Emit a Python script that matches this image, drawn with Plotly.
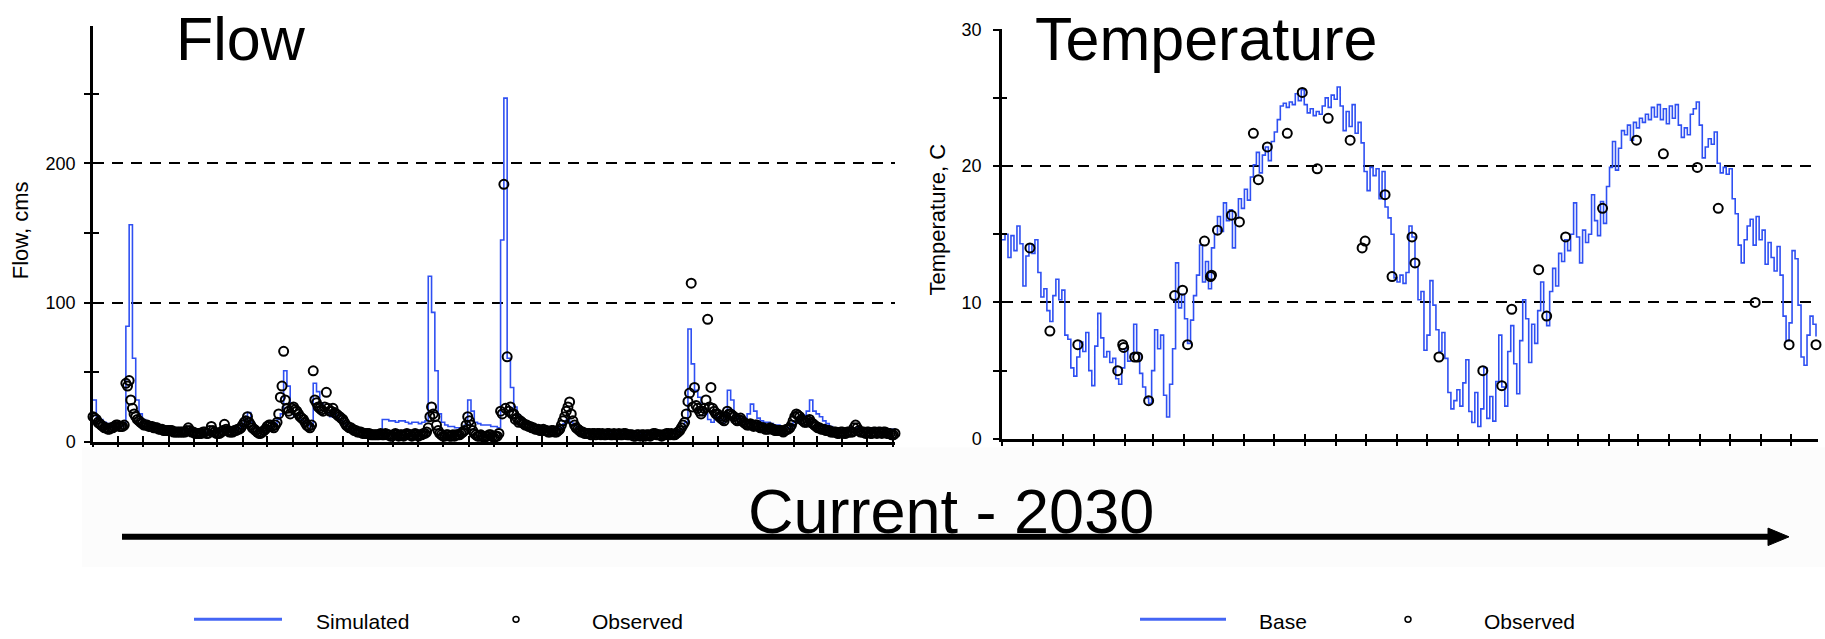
import plotly.graph_objects as go
from datetime import date, timedelta

# ---------------- data ----------------
flow_start = date(2000, 10, 1)
flow_step_days = 4
flow_span_days = 976

flow_simulated = [
    30, 17, 16, 14, 13, 12, 12, 11, 11, 12,
    83, 156, 60, 30, 20, 16, 14, 13, 12, 11,
    11, 10, 10, 9, 9, 9, 8, 8, 8, 8,
    8, 7, 7, 7, 7, 7, 7, 7, 7, 8,
    9, 8, 8, 9, 10, 12, 16, 21, 14, 10,
    8, 7, 8, 10, 11, 13, 16, 20, 51, 40,
    22, 18, 20, 16, 14, 12, 11, 42, 36, 28,
    24, 20, 18, 20, 17, 15, 13, 11, 10, 9,
    8, 8, 7, 7, 7, 7, 7, 8, 16, 16,
    15, 15, 14, 15, 15, 14, 13, 14, 14, 13,
    14, 15, 119, 93, 51, 20, 14, 12, 11, 11,
    10, 10, 10, 12, 30, 22, 14, 13, 12, 12,
    12, 11, 11, 10, 145, 247, 60, 39, 25, 19,
    16, 14, 13, 12, 11, 10, 10, 9, 9, 9,
    8, 9, 10, 13, 16, 14, 12, 10, 9, 8,
    8, 7, 7, 7, 7, 7, 7, 7, 7, 7,
    7, 7, 6, 6, 6, 6, 6, 6, 6, 6,
    7, 6, 6, 6, 7, 7, 7, 7, 8, 9,
    14, 81, 56, 37, 32, 25, 20, 16, 14, 18,
    16, 13, 20, 37, 30, 20, 16, 15, 14, 20,
    27, 22, 17, 15, 14, 14, 13, 12, 12, 11,
    10, 10, 11, 14, 16, 17, 19, 22, 30, 22,
    20, 18, 15, 13, 11, 10, 10, 9, 9, 9,
    9, 9, 10, 9, 9, 9, 9, 10, 9, 9,
    9, 9, 9, 9, 8, 8,
]

# observed flow, sampled on the same 4-day grid as the simulation
flow_observed = [
    18, 16, 13, 11, 10, 9, 10, 12, 11, 11,
    42, 44, 24, 18, 15, 13, 12, 11, 11, 10,
    9, 9, 8, 8, 8, 7, 7, 7, 7, 10,
    7, 6, 6, 6, 7, 6, 11, 7, 6, 7,
    12.5, 8, 7, 8, 9, 10, 14, 18, 12, 9,
    7, 6, 8, 11, 12, 10, 14, 32, 65, 24,
    20, 25, 22, 18, 16, 12, 10, 51, 28, 24,
    22, 35.5, 22, 24, 20, 18, 16, 12, 10, 9,
    8, 7, 6, 6, 6, 5, 5, 5, 5, 6,
    5, 4, 6, 4, 5, 5, 5, 4, 6, 4,
    5, 6, 10, 25, 18, 8, 5, 4, 5, 4,
    4, 5, 6, 8, 18, 12, 6, 4, 5, 3,
    4, 5, 3, 4, 22, 185, 61, 25, 20, 17,
    15, 13, 12, 11, 10, 9, 8, 9, 8, 7,
    8, 7, 9, 15, 22, 28.6, 15, 10, 8, 7,
    6, 6, 6, 5, 6, 6, 5, 6, 5, 5,
    6, 5, 6, 5, 5, 4, 5, 5, 4, 5,
    5, 6, 5, 4, 5, 6, 6, 5, 7, 10,
    14, 29, 114, 39, 24, 20, 24, 88, 39, 22,
    20, 17, 15, 22, 20, 18, 15, 17, 14, 12,
    13, 11, 12, 10, 10, 9, 10, 9, 8, 8,
    7, 9, 10, 15, 20, 18, 15, 14, 16, 13,
    11, 10, 9, 8, 8, 7, 7, 6, 7, 6,
    7, 7, 12, 8, 7, 6, 7, 6, 7, 7,
    6, 7, 6, 5, 6, 6,
]

# observed flow on the in-between days (2 days after each grid day)
flow_observed_mid = [
    17, 14, 12, 10, 9, 10, 11, 12, 11, 12,
    40, 30, 20, 16, 14, 12, 12, 11, 10, 10,
    9, 8, 8, 8, 7, 7, 7, 7, 8, 8,
    7, 6, 6, 7, 6, 8, 8, 6, 6, 8,
    9, 7, 7, 8, 9, 12, 15, 14, 10, 8,
    6, 7, 9, 12, 11, 12, 20, 40, 30, 22,
    24, 23, 20, 17, 14, 11, 12, 30, 25, 23,
    25, 24, 22, 21, 19, 17, 14, 11, 10, 8,
    7, 7, 6, 6, 5, 5, 5, 6, 5, 5,
    4, 5, 5, 5, 4, 6, 5, 5, 5, 5,
    6, 7, 18, 20, 12, 6, 4, 5, 4, 5,
    5, 5, 7, 12, 15, 8, 5, 4, 4, 4,
    5, 4, 4, 6, 20, 24, 22, 20, 16, 14,
    14, 12, 11, 10, 9, 9, 8, 8, 7, 8,
    7, 8, 12, 18, 25, 20, 12, 9, 7, 6,
    6, 5, 6, 6, 5, 5, 6, 5, 6, 5,
    5, 6, 5, 5, 4, 5, 4, 5, 5, 4,
    6, 5, 5, 5, 6, 5, 5, 6, 8, 12,
    20, 35, 25, 26, 22, 22, 30, 25, 24, 20,
    18, 16, 18, 20, 19, 16, 16, 15, 13, 12,
    12, 12, 11, 10, 9, 9, 9, 8, 8, 8,
    8, 9, 12, 18, 19, 16, 14, 15, 14, 12,
    10, 9, 9, 8, 7, 7, 6, 7, 6, 7,
    7, 10, 10, 7, 7, 7, 6, 7, 6, 7,
    7, 6, 6, 5, 6,
]

temp_start = date(2000, 10, 1)
temp_step_days = 3
temp_span_days = 818

temp_base = [
    14.6, 15.0, 13.3, 14.9, 13.8, 15.6, 14.3, 11.2, 13.4, 14.3,
    13.6, 14.6, 12.2, 10.4, 11.0, 9.4, 8.6, 10.5, 11.7, 10.2,
    10.9, 7.6, 7.3, 5.2, 4.6, 6.0, 7.1, 6.4, 7.8, 5.0,
    3.9, 6.8, 9.2, 7.4, 6.0, 6.4, 5.6, 5.9, 4.4, 4.0,
    5.2, 6.6, 5.7, 6.2, 8.4, 6.3, 4.8, 3.8, 3.0, 2.6,
    5.0, 8.0, 6.6, 7.6, 3.2, 1.6, 4.0, 6.6, 12.9, 9.6,
    10.6, 8.8, 7.0, 8.7, 10.5, 12.0, 14.2, 11.5, 13.0, 11.0,
    14.0, 15.0, 16.3, 15.2, 17.3, 16.0, 16.8, 14.0, 16.2, 17.6,
    16.9, 18.3, 17.5, 19.2, 20.1, 21.0, 19.5, 20.8, 21.4, 20.4,
    21.8, 22.5, 23.4, 24.4, 24.6, 24.3, 24.7, 24.5, 25.3, 24.8,
    25.6, 24.5, 23.9, 24.2, 23.7, 24.0, 23.8, 24.4, 25.0, 24.3,
    25.2, 24.9, 25.8, 24.4, 22.6, 24.0, 22.9, 24.5, 22.4, 23.2,
    21.7, 19.6, 18.2, 19.9, 19.3, 19.8, 17.6, 19.6, 17.0, 16.2,
    15.0, 11.8, 11.5, 12.0, 11.4, 12.2, 15.6, 14.8, 12.6, 10.2,
    10.8, 6.5, 7.6, 11.6, 9.8, 8.0, 6.4, 7.8, 5.9, 3.4,
    2.2, 2.8, 3.6, 2.4, 4.1, 5.8, 2.0, 1.2, 3.4, 0.9,
    2.2, 5.2, 1.5, 3.1, 1.3, 4.2, 7.6, 3.8, 2.4, 6.4,
    8.3, 5.5, 3.3, 7.2, 10.2, 8.8, 5.6, 8.4, 7.0, 9.4,
    11.5, 9.3, 8.3, 10.8, 12.5, 11.2, 13.6, 13.0, 14.6, 13.8,
    15.0, 17.3, 14.8, 12.9, 15.3, 14.4, 15.0, 17.9, 16.0, 14.9,
    17.4, 15.8, 18.5, 19.9, 21.8, 19.7, 21.3, 22.6, 22.3, 23.0,
    21.9, 23.2, 22.8, 23.5, 23.2, 23.8, 23.4, 24.3, 23.6, 24.5,
    23.4, 24.2, 23.1, 24.4, 23.5, 24.5, 23.0, 22.1, 22.8, 22.3,
    23.8, 24.2, 24.7, 23.0, 20.6, 21.4, 22.0, 21.6, 22.5, 20.2,
    19.5, 19.9, 19.4, 19.8, 17.6, 16.5, 14.2, 12.9, 14.6, 15.6,
    16.1, 14.2, 16.3, 14.6, 15.3, 12.8, 14.4, 13.3, 12.3, 14.1,
    12.0, 9.0, 7.2, 8.5, 13.8, 13.2, 9.8, 6.0, 5.4, 7.6,
    9.0, 8.4, 7.5,
]

temp_obs_day = [
    28, 48, 76, 116, 121, 122, 133, 136, 147, 173,
    181, 186, 203, 209, 210, 216, 230, 238, 252, 257,
    266, 286, 301, 316, 327, 349, 361, 364, 384, 391,
    411, 414, 438, 482, 501, 511, 538, 546, 565, 602,
    636, 663, 697, 718, 755, 789, 816,
]
temp_obs_val = [
    14.0, 7.9, 6.9, 5.0, 6.9, 6.7, 6.0, 6.0, 2.8, 10.5,
    10.9, 6.9, 14.5, 11.9, 12.0, 15.3, 16.4, 15.9, 22.4, 19.0,
    21.4, 22.4, 25.4, 19.8, 23.5, 21.9, 14.0, 14.5, 17.9, 11.9,
    14.8, 12.9, 6.0, 5.0, 3.9, 9.5, 12.4, 9.0, 14.8, 16.9,
    21.9, 20.9, 19.9, 16.9, 10.0, 6.9, 6.9,
]

flow_tickvals = [0, 100, 200]
flow_minorvals = [50, 150, 250]
flow_ymax = 298.5
temp_tickvals = [0, 10, 20, 30]
temp_minorvals = [5, 15, 25]
temp_ymax = 30.02

# ---------------- helpers ----------------
W, H = 1825, 639


def px(x):
    return x / W


def py(y):
    return 1 - y / H


def day_dates(start, days):
    return [(start + timedelta(days=d)).isoformat() for d in days]


def step_dates(start, n, step, offset=0):
    return day_dates(start, [step * i + offset for i in range(n)])


BLUE = "#2f50f2"
FONT = "Arial, Liberation Sans, sans-serif"

fig = go.Figure()

obs_marker = dict(symbol="circle-open", size=9, color="black",
                  line=dict(width=2, color="black"))

# Flow chart
fig.add_trace(go.Scatter(
    x=step_dates(flow_start, len(flow_simulated), flow_step_days), y=flow_simulated,
    mode="lines", line=dict(color=BLUE, width=1.6, shape="hv"),
    xaxis="x", yaxis="y", name="Simulated"))
fig.add_trace(go.Scatter(
    x=step_dates(flow_start, len(flow_observed), flow_step_days)
      + step_dates(flow_start, len(flow_observed_mid), flow_step_days, offset=2),
    y=flow_observed + flow_observed_mid,
    mode="markers", marker=obs_marker,
    cliponaxis=False, xaxis="x", yaxis="y", name="Observed"))

# Temperature chart
fig.add_trace(go.Scatter(
    x=step_dates(temp_start, len(temp_base), temp_step_days), y=temp_base,
    mode="lines", line=dict(color=BLUE, width=1.6, shape="hv"),
    xaxis="x2", yaxis="y2", name="Base"))
fig.add_trace(go.Scatter(
    x=day_dates(temp_start, temp_obs_day), y=temp_obs_val,
    mode="markers", marker=obs_marker,
    cliponaxis=False, xaxis="x2", yaxis="y2", name="Observed"))

# empty traces so the overlay (inside-tick) axes are drawn
fig.add_trace(go.Scatter(x=[], y=[], xaxis="x3", yaxis="y3", showlegend=False))
fig.add_trace(go.Scatter(x=[], y=[], xaxis="x4", yaxis="y4", showlegend=False))

flow_xrange = [flow_start.isoformat(), (flow_start + timedelta(days=flow_span_days)).isoformat()]
temp_xrange = [temp_start.isoformat(), (temp_start + timedelta(days=temp_span_days)).isoformat()]

common_x = dict(type="date", tickmode="linear", dtick="M1", showticklabels=False,
                showgrid=False, zeroline=False, tickcolor="black", tickwidth=2)
grid = dict(showgrid=True, gridcolor="black", gridwidth=2, griddash="11px,8px")
tickfont = dict(family=FONT, size=18, color="black")

fig.update_layout(
    width=W, height=H, margin=dict(l=0, r=0, t=0, b=0),
    paper_bgcolor="white", plot_bgcolor="white", showlegend=False,
    xaxis=dict(**common_x, domain=[px(93), px(895)], anchor="y", range=flow_xrange,
               tick0=flow_xrange[0], ticks="outside", ticklen=3,
               showline=True, linecolor="black", linewidth=2.5),
    xaxis3=dict(**common_x, overlaying="x", anchor="y", range=flow_xrange,
                tick0=flow_xrange[0], ticks="inside", ticklen=6, showline=False),
    yaxis=dict(domain=[py(446), py(18)], anchor="x", range=[0, flow_ymax],
               tickmode="array", tickvals=flow_tickvals,
               ticktext=[str(v) for v in flow_tickvals],
               ticks="outside", ticklen=6, tickwidth=2, tickcolor="black",
               showline=True, linecolor="black", linewidth=2.5, zeroline=False,
               tickfont=tickfont, ticklabelstandoff=5,
               minor=dict(tickvals=flow_minorvals, ticks="outside", ticklen=6,
                          tickwidth=2, tickcolor="black", showgrid=False),
               **grid),
    yaxis3=dict(overlaying="y", anchor="x", side="left", range=[0, flow_ymax],
                tickmode="array", tickvals=flow_tickvals + flow_minorvals,
                ticks="inside", ticklen=6, tickwidth=2, tickcolor="black",
                showticklabels=False, showgrid=False, showline=False, zeroline=False),
    xaxis2=dict(**common_x, domain=[px(1002), px(1818)], anchor="y2", range=temp_xrange,
                tick0=temp_xrange[0], ticks="outside", ticklen=4,
                showline=True, linecolor="black", linewidth=2.5),
    xaxis4=dict(**common_x, overlaying="x2", anchor="y2", range=temp_xrange,
                tick0=temp_xrange[0], ticks="inside", ticklen=5, showline=False),
    yaxis2=dict(domain=[py(443), py(21)], anchor="x2", range=[0, temp_ymax],
                tickmode="array", tickvals=temp_tickvals,
                ticktext=[str(v) for v in temp_tickvals],
                ticks="outside", ticklen=6, tickwidth=2, tickcolor="black",
                showline=True, linecolor="black", linewidth=2.5, zeroline=False,
                tickfont=tickfont, ticklabelstandoff=8,
                minor=dict(tickvals=temp_minorvals, ticks="outside", ticklen=6,
                           tickwidth=2, tickcolor="black", showgrid=False),
                **grid),
    yaxis4=dict(overlaying="y2", anchor="x2", side="left", range=[0, temp_ymax],
                tickmode="array", tickvals=temp_tickvals + temp_minorvals,
                ticks="inside", ticklen=5, tickwidth=2, tickcolor="black",
                showticklabels=False, showgrid=False, showline=False, zeroline=False),
)

shapes = [
    # faint band behind the time-line caption
    dict(type="rect", xref="paper", yref="paper", x0=px(82), x1=1, y0=py(575), y1=py(452),
         fillcolor="#fcfcfc", line=dict(width=0), layer="below"),
    # time arrow
    dict(type="line", xref="paper", yref="paper", x0=px(122), x1=px(1772),
         y0=py(544), y1=py(544), line=dict(color="black", width=6)),
    dict(type="path", xref="paper", yref="paper",
         path=f"M {px(1768)},{py(535)} L {px(1789)},{py(544)} L {px(1768)},{py(553)} Z",
         fillcolor="black", line=dict(color="black", width=1)),
    # legend symbols
    dict(type="line", xref="paper", yref="paper", x0=px(194), x1=px(282),
         y0=py(629), y1=py(629), line=dict(color="#4466f5", width=3)),
    dict(type="circle", xref="paper", yref="paper", x0=px(513), x1=px(519),
         y0=py(632), y1=py(626), line=dict(color="black", width=1.5)),
    dict(type="line", xref="paper", yref="paper", x0=px(1140), x1=px(1226),
         y0=py(629), y1=py(629), line=dict(color="#4466f5", width=3)),
    dict(type="circle", xref="paper", yref="paper", x0=px(1405), x1=px(1411),
         y0=py(632), y1=py(626), line=dict(color="black", width=1.5)),
]
fig.update_layout(shapes=shapes)


def ann(text, x, y, size, xanchor="center", angle=0, **kw):
    return dict(text=text, x=px(x), y=py(y), xref="paper", yref="paper",
                showarrow=False, xanchor=xanchor, yanchor="middle", textangle=angle,
                font=dict(family=FONT, size=size, color="black"), **kw)


fig.update_layout(annotations=[
    ann("Flow", 241, 31, 61),
    ann("Temperature", 1206, 31, 61, bgcolor="white", borderpad=0),
    ann("Current - 2030", 951, 517, 63),
    ann("Flow, cms", 20, 228, 22, angle=-90),
    ann("Temperature, C", 938, 217, 22, angle=-90),
    ann("Simulated", 314, 631, 21, xanchor="left"),
    ann("Observed", 590, 631, 21, xanchor="left"),
    ann("Base", 1257, 631, 21, xanchor="left"),
    ann("Observed", 1482, 631, 21, xanchor="left"),
])

fig.write_html("out.html", config={"displayModeBar": False},
               post_script="document.body.style.margin='0px';")
